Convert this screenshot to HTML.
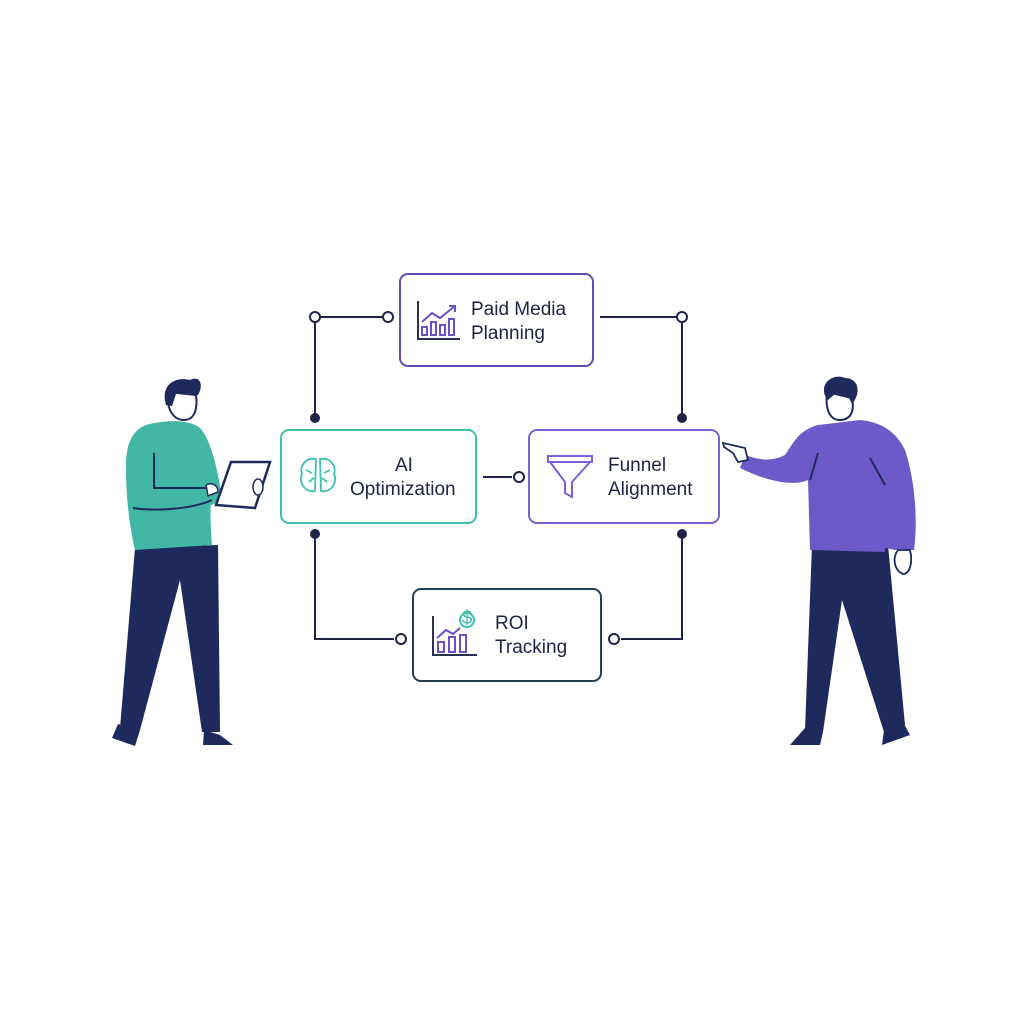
<!DOCTYPE html>
<html><head><style>
html,body{margin:0;padding:0;background:#fff;}
svg{display:block;}
text{font-family:"Liberation Sans",sans-serif;fill:#1f2347;font-size:19px;}
</style></head><body>
<svg width="1024" height="1024" viewBox="0 0 1024 1024" xmlns="http://www.w3.org/2000/svg">
<rect width="1024" height="1024" fill="#fff"/>
<!-- connectors -->
<g stroke="#1f2347" stroke-width="2" fill="none">
<path d="M315 317 H388 M315 317 V418"/>
<path d="M600 317 H682 V418"/>
<path d="M483 477 H512"/>
<path d="M315 534 V639 H394"/>
<path d="M621 639 H682 V534"/>
</g>
<g fill="#fff" stroke="#1f2347" stroke-width="2">
<circle cx="315" cy="317" r="5"/><circle cx="388" cy="317" r="5"/><circle cx="682" cy="317" r="5"/>
<circle cx="519" cy="477" r="5"/><circle cx="401" cy="639" r="5"/><circle cx="614" cy="639" r="5"/>
</g>
<g fill="#1f2347"><circle cx="315" cy="418" r="5"/><circle cx="682" cy="418" r="5"/><circle cx="315" cy="534" r="5"/><circle cx="682" cy="534" r="5"/></g>
<!-- boxes -->
<rect x="400" y="274" width="193" height="92" rx="8" fill="#fff" stroke="#5a4fbd" stroke-width="2"/>
<rect x="281" y="430" width="195" height="93" rx="8" fill="#fff" stroke="#3fc0ae" stroke-width="2"/>
<rect x="529" y="430" width="190" height="93" rx="8" fill="#fff" stroke="#7d5fd8" stroke-width="2"/>
<rect x="413" y="589" width="188" height="92" rx="8" fill="#fff" stroke="#253d58" stroke-width="2"/>
<!-- icons -->
<g fill="none" stroke="#6a4fc8" stroke-width="2">
<path d="M418 301 V339 H460" stroke="#2a2f55"/>
<rect x="422" y="327" width="5" height="8"/><rect x="431" y="322" width="5" height="13"/><rect x="440" y="325" width="5" height="10"/><rect x="449" y="319" width="5" height="16"/>
<path d="M422 322 L432 313 L440 318 L455 306 M449 306 H455 V312"/>
<path d="M433 616 V655 H477" stroke="#2a2f55"/>
<rect x="438" y="642" width="6" height="10"/><rect x="449" y="637" width="6" height="15"/><rect x="460" y="635" width="6" height="17"/>
<path d="M437 638 L446 630 L453 634 L460 628"/>
<path d="M548 456 H592 V462 H548 Z M550 462 L565 482 V493 L572 497 V482 L590 462" stroke="#7d5fd8"/>
</g>
<circle cx="467" cy="620" r="7" fill="#fff" stroke="#3fc0ae" stroke-width="2"/>
<text x="467" y="624" font-size="10" text-anchor="middle" style="fill:#3fc0ae">$</text>
<g fill="none" stroke="#3fc0ae" stroke-width="1.8">
<path d="M316 459 C306 457 299 466 302 474 C298 482 305 493 315 491 Z"/>
<path d="M320 459 C330 457 337 466 334 474 C338 482 331 493 321 491 Z"/>
<path d="M306 470 L312 473 M309 482 L314 478 M330 470 L324 473 M327 482 L322 478"/>
</g>
<!-- text -->
<text x="471" y="315">Paid Media</text>
<text x="471" y="339">Planning</text>
<text x="395" y="471">AI</text>
<text x="350" y="495">Optimization</text>
<text x="608" y="471">Funnel</text>
<text x="608" y="495">Alignment</text>
<text x="495" y="629">ROI</text>
<text x="495" y="653">Tracking</text>
<!-- left person -->
<g>
<path d="M135 548 L120 728 L140 730 L180 580 L202 732 L220 732 L218 545 Z" fill="#1e2a5c"/>
<path d="M118 724 L112 738 L135 746 L140 730 Z M204 730 L203 745 L233 745 L220 735 Z" fill="#1e2a5c"/>
<path d="M155 423 C135 425 125 440 126 470 C126 490 128 520 135 550 L212 545 C210 520 210 500 212 505 L222 500 C220 480 212 440 200 428 C190 420 170 420 155 423 Z" fill="#43b7a6"/>
<path d="M154 453 V488 H210 M133 508 C160 512 195 508 212 500" stroke="#1e2a5c" stroke-width="2" fill="none"/>
<path d="M216 505 L231 462 L270 462 L255 508 Z" fill="#fff" stroke="#1e2a5c" stroke-width="2.5"/>
<path d="M206 485 C212 482 218 485 218 492 L208 496 Z" fill="#fff" stroke="#1e2a5c" stroke-width="1.5"/>
<ellipse cx="258" cy="487" rx="5" ry="8" fill="#fff" stroke="#1e2a5c" stroke-width="1.5"/>
<path d="M168 392 C166 410 174 420 184 420 C194 420 198 410 196 395 Z" fill="#fff" stroke="#1e2a5c" stroke-width="2"/>
<path d="M166 405 C160 385 175 376 190 380 C200 375 204 385 198 395 L194 395 L188 393 L176 394 L172 406 Z" fill="#1e2a5c"/>
</g>
<!-- right person -->
<g>
<path d="M812 545 L805 730 L823 732 L842 600 L884 732 L905 725 L888 545 Z" fill="#1e2a5c"/>
<path d="M805 728 L790 745 L820 745 L823 732 Z M884 730 L882 745 L910 735 L903 722 Z" fill="#1e2a5c"/>
<path d="M818 425 C800 430 795 440 785 455 C770 462 760 460 745 455 L740 468 C760 478 790 488 808 480 L810 550 L885 552 L885 548 L896 550 L914 550 C918 520 915 480 905 450 C895 430 880 422 860 420 Z" fill="#6e59c9"/>
<path d="M818 453 L810 480 M870 458 L885 485" stroke="#1e2a5c" stroke-width="2" fill="none"/>
<path d="M723 443 L745 448 L748 460 L738 462 L733 453 L724 447 Z" fill="#fff" stroke="#1e2a5c" stroke-width="1.8"/>
<path d="M898 550 C892 558 894 570 903 574 C910 574 913 562 910 550 Z" fill="#fff" stroke="#1e2a5c" stroke-width="1.8"/>
<path d="M827 392 C825 410 830 420 840 420 C850 420 855 412 852 398 Z" fill="#fff" stroke="#1e2a5c" stroke-width="2"/>
<path d="M826 398 C818 382 835 373 845 378 C858 378 862 392 852 404 L848 396 L835 394 L828 400 Z" fill="#1e2a5c"/>
</g>
</svg>
</body></html>
